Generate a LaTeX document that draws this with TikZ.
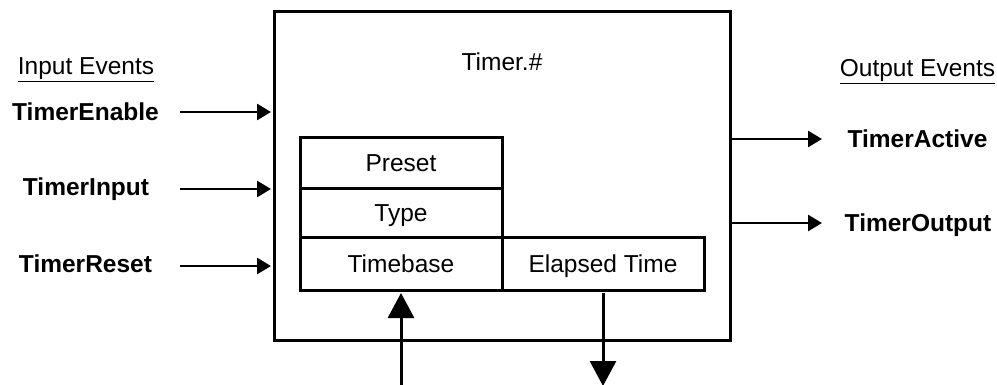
\documentclass[tikz,border=0pt]{standalone}
\usepackage{fontspec}
\setmainfont{Liberation Sans}
\usetikzlibrary{arrows.meta}
\begin{document}
\begin{tikzpicture}[x=1pt,y=-1pt,
  lbl/.style={font=\fontsize{24.5}{28}\selectfont, inner sep=0pt, anchor=base},
  evt/.style={font=\fontsize{24.5}{28}\selectfont\bfseries, inner sep=0pt, anchor=base},
  cell/.style={draw, line width=3pt, inner sep=0pt, minimum width=202pt},
  txt/.style={font=\fontsize{24.5}{28}\selectfont, inner sep=0pt, anchor=base},
  harr/.style={line width=2.7pt, -{Triangle[length=14pt,width=16pt]}},
  varr/.style={line width=3pt, -{Triangle[length=25pt,width=26pt]}}]
\useasboundingbox (0,0) rectangle (997,385);
% main block
\node[draw, line width=3pt, minimum width=456pt, minimum height=328pt, inner sep=0pt] (main) at (502,176) {};
\node[lbl] (title) at (502,71) {Timer.\#};
% inner cells
\node[cell, minimum height=51pt] (preset) at (401,163.5) {};
\node[cell, minimum height=49pt] (type) at (401,213.5) {};
\node[cell, minimum height=52pt] (timebase) at (401,264) {};
\node[cell, minimum height=52pt] (elapsed) at (603,264) {};
\node[txt] (tpreset) at (401,171.5) {Preset};
\node[txt] (ttype) at (401,221.5) {Type};
\node[txt] (ttimebase) at (401,272.5) {Timebase};
\node[txt] (telapsed) at (603,272.5) {Elapsed Time};
% labels
\node[lbl] (inhead) at (86,74.5) {\underline{Input Events}};
\node[lbl] (outhead) at (917.5,76.5) {\underline{Output Events}};
\node[evt] (en) at (85.5,120.5) {TimerEnable};
\node[evt] (inp) at (86,195.5) {TimerInput};
\node[evt] (rst) at (85.5,272.5) {TimerReset};
\node[evt] (act) at (917.5,147.5) {TimerActive};
\node[evt] (outp) at (918,231.5) {TimerOutput};
% input arrows
\coordinate (cen) at (180,112);
\coordinate (cinp) at (180,189);
\coordinate (crst) at (180,266);
\draw[harr, shorten >=1.5pt] (cen) -- (cen -| main.west);
\draw[harr, shorten >=1.5pt] (cinp) -- (cinp -| main.west);
\draw[harr, shorten >=1.5pt] (crst) -- (crst -| main.west);
% output arrows
\coordinate (cact) at (822,139);
\coordinate (coutp) at (822,223);
\draw[harr] (cact -| main.east) -- (cact);
\draw[harr] (coutp -| main.east) -- (coutp);
% vertical arrows
\coordinate (cup) at (401,386);
\coordinate (cdown) at (603,386);
\draw[varr, shorten >=1.5pt] (cup) -- (timebase.south);
\draw[varr, shorten <=1.5pt] (elapsed.south) -- (cdown);
\end{tikzpicture}
\end{document}
